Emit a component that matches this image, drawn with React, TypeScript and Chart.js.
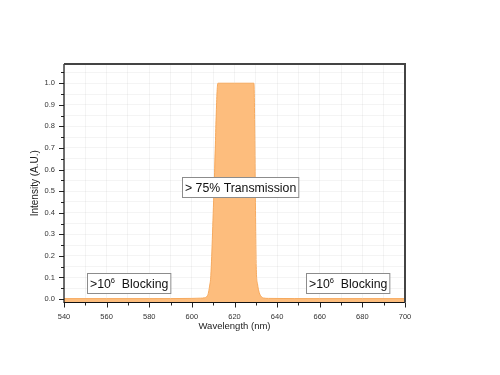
import React, { useEffect, useRef } from 'react';
import { Chart, registerables } from 'chart.js';

Chart.register(...registerables);

// ---- data ----
const WAVELENGTH_NM = [540, 560, 580, 600, 604, 606, 607, 607.7, 608.3, 608.9, 610.5, 612.2, 620, 629.1, 630.2, 630.8, 631.6, 632.5, 633.5, 636, 660, 680, 700];
const INTENSITY = [0.002, 0.002, 0.002, 0.003, 0.004, 0.006, 0.012, 0.026, 0.06, 0.11, 0.54, 1.0, 1.0, 1.0, 0.15, 0.07, 0.03, 0.012, 0.005, 0.003, 0.002, 0.002, 0.002];

const X_TICK_LABELS = ['540', '560', '580', '600', '620', '640', '660', '680', '700'];
const X_MINOR_TICKS = [550, 570, 590, 610, 630, 650, 670, 690];
const Y_TICK_LABELS = ['0.0', '0.1', '0.2', '0.3', '0.4', '0.5', '0.6', '0.7', '0.8', '0.9', '1.0'];
const Y_MINOR_TICKS = [0.05, 0.15, 0.25, 0.35, 0.45, 0.55, 0.65, 0.75, 0.85, 0.95, 1.05];

const X_RANGE = [540, 700];
const Y_RANGE = [-0.016, 1.089];

// annotation anchors in data units (wavelength, intensity)
const LABEL_TRANSMISSION = { x: 622.5, y: 0.52, text: '> 75% Transmission' };
const LABEL_BLOCKING = [
  { x: 570.4, y: 0.073 },
  { x: 673.2, y: 0.073 },
];

const FONT = '"Liberation Sans", Arial, sans-serif';

const X_MAJOR = X_TICK_LABELS.map(Number);
const Y_MAJOR = Y_TICK_LABELS.map(Number);
const X_ALL = [...X_MAJOR, ...X_MINOR_TICKS].sort((a, b) => a - b);
const Y_ALL = [...Y_MAJOR, ...Y_MINOR_TICKS].sort((a, b) => a - b);

function drawLabelBox(ctx: CanvasRenderingContext2D, cx: number, cy: number, parts: { t: string; size: number; dy: number }[]) {
  let w = 0;
  const widths = parts.map((p) => {
    ctx.font = `${p.size}px ${FONT}`;
    const m = ctx.measureText(p.t).width;
    w += m;
    return m;
  });
  const padX = 2.5;
  const h = 20;
  const bw = w + padX * 2;
  const left = Math.round(cx - bw / 2) + 0.5;
  const top = Math.round(cy - h / 2) + 0.5;
  ctx.fillStyle = '#ffffff';
  ctx.fillRect(left, top, bw, h);
  ctx.strokeStyle = '#8c8c8c';
  ctx.lineWidth = 1;
  ctx.strokeRect(left, top, bw, h);
  let x = left + padX;
  ctx.fillStyle = '#111';
  ctx.textBaseline = 'alphabetic';
  ctx.textAlign = 'left';
  parts.forEach((p, i) => {
    ctx.font = `${p.size}px ${FONT}`;
    ctx.fillText(p.t, x, top + h / 2 + 4.5 + p.dy);
    x += widths[i];
  });
}

const overlayPlugin = {
  id: 'overlay',
  afterDraw(chart: any) {
    const { ctx, chartArea: a, scales } = chart;
    const xs = scales.x;
    const ys = scales.y;
    ctx.save();
    // tick marks
    ctx.strokeStyle = '#222';
    ctx.lineWidth = 1;
    ctx.beginPath();
    X_ALL.forEach((v) => {
      const px = Math.round(xs.getPixelForValue(v)) + 0.5;
      const len = X_MAJOR.includes(v) ? 5 : 3;
      ctx.moveTo(px, a.bottom);
      ctx.lineTo(px, a.bottom + len);
    });
    Y_ALL.forEach((v) => {
      const py = Math.round(ys.getPixelForValue(v)) + 0.5;
      const len = Y_MAJOR.some((m) => Math.abs(m - v) < 1e-9) ? 5 : 3;
      ctx.moveTo(a.left, py);
      ctx.lineTo(a.left - len, py);
    });
    ctx.stroke();
    // axes lines
    ctx.strokeStyle = '#111';
    ctx.lineWidth = 1.2;
    ctx.beginPath();
    ctx.moveTo(a.left, a.top);
    ctx.lineTo(a.left, a.bottom);
    ctx.lineTo(a.right, a.bottom);
    ctx.stroke();
    // frame top/right
    ctx.strokeStyle = '#444';
    ctx.lineWidth = 2;
    ctx.beginPath();
    ctx.moveTo(a.left, a.top);
    ctx.lineTo(a.right, a.top);
    ctx.lineTo(a.right, a.bottom);
    ctx.stroke();

    // annotations
    drawLabelBox(ctx, xs.getPixelForValue(LABEL_TRANSMISSION.x), ys.getPixelForValue(LABEL_TRANSMISSION.y), [
      { t: LABEL_TRANSMISSION.text, size: 12.3, dy: 0 },
    ]);
    LABEL_BLOCKING.forEach((b) => {
      drawLabelBox(ctx, xs.getPixelForValue(b.x), ys.getPixelForValue(b.y), [
        { t: '>10', size: 12.3, dy: 0 },
        { t: '6', size: 7.5, dy: -5 },
        { t: '  Blocking', size: 12.3, dy: 0 },
      ]);
    });
    ctx.restore();
  },
};

export default function App() {
  const ref = useRef<HTMLCanvasElement | null>(null);
  useEffect(() => {
    if (!ref.current) return;
    Chart.defaults.font.family = FONT;
    const chart = new Chart(ref.current, {
      type: 'line',
      data: {
        datasets: [
          {
            data: WAVELENGTH_NM.map((x, i) => ({ x, y: INTENSITY[i] })),
            borderColor: 'rgb(246, 170, 95)',
            backgroundColor: 'rgb(253, 189, 125)',
            borderWidth: 1,
            pointRadius: 0,
            fill: 'start',
            cubicInterpolationMode: 'monotone',
          },
        ],
      },
      options: {
        animation: false,
        responsive: false,
        layout: { padding: { left: 0, top: 64, right: 95, bottom: 0 } },
        plugins: { legend: { display: false }, tooltip: { enabled: false } },
        scales: {
          x: {
            type: 'linear',
            min: X_RANGE[0],
            max: X_RANGE[1],
            afterBuildTicks: (s: any) => {
              s.ticks = X_ALL.map((v) => ({ value: v }));
            },
            afterFit: (s: any) => {
              s.height = 72.5;
            },
            ticks: {
              autoSkip: false,
              maxRotation: 0,
              padding: 5,
              color: '#333',
              font: { size: 7.5 },
              callback: (v: any) => {
                const i = X_MAJOR.indexOf(Number(v));
                return i >= 0 ? X_TICK_LABELS[i] : '';
              },
            },
            grid: { color: 'rgba(0,0,0,0.045)', tickColor: 'rgba(0,0,0,0)', tickLength: 5, lineWidth: 1 },
            border: { display: false },
            title: {
              display: true,
              text: 'Wavelength (nm)',
              color: '#222',
              font: { size: 9.5 },
              padding: { top: 0, bottom: 43 },
            },
          },
          y: {
            type: 'linear',
            min: Y_RANGE[0],
            max: Y_RANGE[1],
            afterBuildTicks: (s: any) => {
              s.ticks = Y_ALL.map((v) => ({ value: v }));
            },
            afterFit: (s: any) => {
              s.width = 64;
            },
            ticks: {
              autoSkip: false,
              padding: 4,
              color: '#333',
              font: { size: 7.5 },
              callback: (v: any) => {
                const i = Y_MAJOR.findIndex((m) => Math.abs(m - Number(v)) < 1e-9);
                return i >= 0 ? Y_TICK_LABELS[i] : '';
              },
            },
            grid: { color: 'rgba(0,0,0,0.045)', tickColor: 'rgba(0,0,0,0)', tickLength: 5, lineWidth: 1 },
            border: { display: false },
            title: {
              display: true,
              text: 'Intensity (A.U.)',
              color: '#222',
              font: { size: 10 },
              padding: { top: 29, bottom: 0 },
            },
          },
        },
      },
      plugins: [overlayPlugin],
    } as any);
    return () => chart.destroy();
  }, []);
  return (
    <div style={{ position: 'fixed', left: 0, top: 0, width: 500, height: 375, background: '#fff' }}>
      <canvas ref={ref} width={500} height={375} style={{ display: 'block' }} />
    </div>
  );
}
